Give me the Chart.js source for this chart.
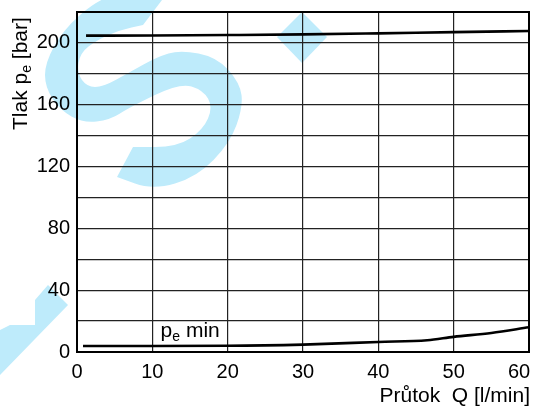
<!DOCTYPE html>
<html>
<head>
<meta charset="utf-8">
<script src="https://cdn.jsdelivr.net/npm/chart.js@4"></script>
<style>
  html, body { margin: 0; padding: 0; background: #fff; }
  .chart-container { width: 536px; height: 407px; }
</style>
</head>
<body>
<div class="chart-container"><canvas id="chart" width="536" height="407"></canvas></div>
<script>
// upper curve (set pressure) and lower curve (pe min)
var flowUpper = [1.2, 10, 20, 30, 40, 50, 60];
var pressUpper = [204.7, 204.8, 205.1, 205.5, 206.2, 207.0, 207.7];
var flowLower = [0.8, 10, 20, 30, 40, 46.5, 50, 55, 60];
var pressLower = [3.9, 3.9, 4.0, 4.8, 6.5, 7.6, 9.8, 12.3, 16.0];

var yTitle = ['Tlak p', 'e', ' [bar]'];
var xTitle = 'Průtok  Q [l/min]';
var minLabel = ['p', 'e', ' min'];
var minLabelAt = { x: 11.1, y: 9.9 };

var fontFamily = "'Liberation Sans', Arial, Helvetica, sans-serif";
var watermark = 'rgb(190, 235, 251)';

// outline of the big "S" behind the plot (canvas px); c = sharp corner
var sOutline = [
  [170, -7], [130, -10], [97, 0], [63, 30], [45, 63], [45, 87], [60, 110],
  [83, 123], [110, 120], [130, 107], [180, 83], [203, 90], [213, 107],
  [203, 130], [177, 147], [133, 147, 'c'], [117, 177, 'c'], [153, 190],
  [197, 177], [230, 143], [243, 107], [240, 83], [217, 57], [180, 50],
  [157, 57], [130, 72], [103, 87], [87, 87], [77, 73], [80, 53], [97, 40],
  [120, 30], [143, 25, 'c'], [162, 0, 'c']
];

function toPoints(xs, ys) {
  return xs.map(function (x, i) { return { x: x, y: ys[i] }; });
}

// text with a subscript in the middle
function drawSub(ctx, parts, size, subSize) {
  var x = 0;
  parts.forEach(function (t, i) {
    var sub = i === 1;
    ctx.font = (sub ? subSize : size) + 'px ' + fontFamily;
    ctx.fillText(t, x, sub ? 4 : 0);
    x += ctx.measureText(t).width;
  });
}

function smoothShape(ctx, pts) {
  var n = pts.length;
  function mid(a, b) { return [(a[0] + b[0]) / 2, (a[1] + b[1]) / 2]; }
  var start = mid(pts[0], pts[1]);
  ctx.beginPath();
  ctx.moveTo(start[0], start[1]);
  for (var i = 1; i <= n; i++) {
    var p = pts[i % n];
    var m = mid(p, pts[(i + 1) % n]);
    if (p[2] === 'c') {
      ctx.lineTo(p[0], p[1]);
      ctx.lineTo(m[0], m[1]);
    } else {
      ctx.quadraticCurveTo(p[0], p[1], m[0], m[1]);
    }
  }
  ctx.closePath();
  ctx.fill();
}

var decoPlugin = {
  id: 'deco',
  beforeDraw: function (chart) {
    var ctx = chart.ctx;
    ctx.save();
    ctx.fillStyle = '#fff';
    ctx.fillRect(0, 0, chart.width, chart.height);

    // background logo marks
    ctx.fillStyle = watermark;
    smoothShape(ctx, sOutline);

    ctx.beginPath();
    ctx.moveTo(302, 12);
    ctx.lineTo(327, 37);
    ctx.lineTo(302, 63);
    ctx.lineTo(277, 37);
    ctx.closePath();
    ctx.fill();

    ctx.beginPath();
    ctx.moveTo(0, 330);
    ctx.lineTo(10, 325);
    ctx.lineTo(35, 325);
    ctx.lineTo(35, 300);
    ctx.lineTo(48, 285);
    ctx.lineTo(68, 305);
    ctx.lineTo(0, 375);
    ctx.closePath();
    ctx.fill();
    ctx.restore();
  },
  afterDraw: function (chart) {
    var ctx = chart.ctx;
    var a = chart.chartArea;
    ctx.save();

    // frame round the plot
    ctx.strokeStyle = '#000';
    ctx.lineWidth = 2;
    ctx.strokeRect(a.left, a.top, a.right - a.left, a.bottom - a.top);

    ctx.fillStyle = '#000';
    ctx.textBaseline = 'alphabetic';

    // y title, rotated
    ctx.save();
    ctx.translate(27, 130);
    ctx.rotate(-Math.PI / 2);
    ctx.textAlign = 'left';
    drawSub(ctx, yTitle, 21, 14);
    ctx.restore();

    // x title
    ctx.textAlign = 'right';
    ctx.font = '21px ' + fontFamily;
    ctx.fillText(xTitle, 530, 402);

    // pe min label
    var px = chart.scales.x.getPixelForValue(minLabelAt.x);
    var py = chart.scales.y.getPixelForValue(minLabelAt.y);
    ctx.save();
    ctx.translate(px, py);
    ctx.textAlign = 'left';
    drawSub(ctx, minLabel, 21, 14);
    ctx.restore();
    ctx.restore();
  }
};

var ctx = document.getElementById('chart').getContext('2d');

new Chart(ctx, {
  type: 'line',
  data: {
    datasets: [
      {
        data: toPoints(flowUpper, pressUpper),
        borderColor: '#000',
        borderWidth: 2.6,
        pointRadius: 0,
        cubicInterpolationMode: 'monotone'
      },
      {
        data: toPoints(flowLower, pressLower),
        borderColor: '#000',
        borderWidth: 2.6,
        pointRadius: 0,
        cubicInterpolationMode: 'monotone'
      }
    ]
  },
  options: {
    responsive: false,
    animation: false,
    layout: { padding: { top: 12, right: 7, left: 0, bottom: 0 } },
    plugins: {
      legend: { display: false },
      tooltip: { enabled: false }
    },
    scales: {
      x: {
        type: 'linear',
        min: 0,
        max: 60,
        afterFit: function (scale) {
          scale.height = 55;
          scale.paddingLeft = 0;
          scale.paddingRight = 0;
        },
        grid: {
          color: '#222',
          lineWidth: 1.2,
          drawTicks: false
        },
        border: { color: '#000', width: 2 },
        ticks: {
          stepSize: 10,
          padding: 8,
          color: '#000',
          maxRotation: 0,
          font: { family: fontFamily, size: 20 },
          // last label sits inside the right edge, as in the original
          callback: function (v) { return v === 60 ? v + '\u2002\u2002' : v; }
        }
      },
      y: {
        min: 0,
        max: 220,
        afterFit: function (scale) {
          scale.width = 77;
          scale.paddingTop = 0;
          scale.paddingBottom = 0;
        },
        grid: {
          color: '#222',
          lineWidth: 1.2,
          drawTicks: false
        },
        border: { color: '#000', width: 2 },
        ticks: {
          stepSize: 20,
          padding: 7,
          color: '#000',
          font: { family: fontFamily, size: 20 },
          callback: function (v) { return v % 40 === 0 ? v : ''; }
        }
      }
    }
  },
  plugins: [decoPlugin]
});
</script>
</body>
</html>
